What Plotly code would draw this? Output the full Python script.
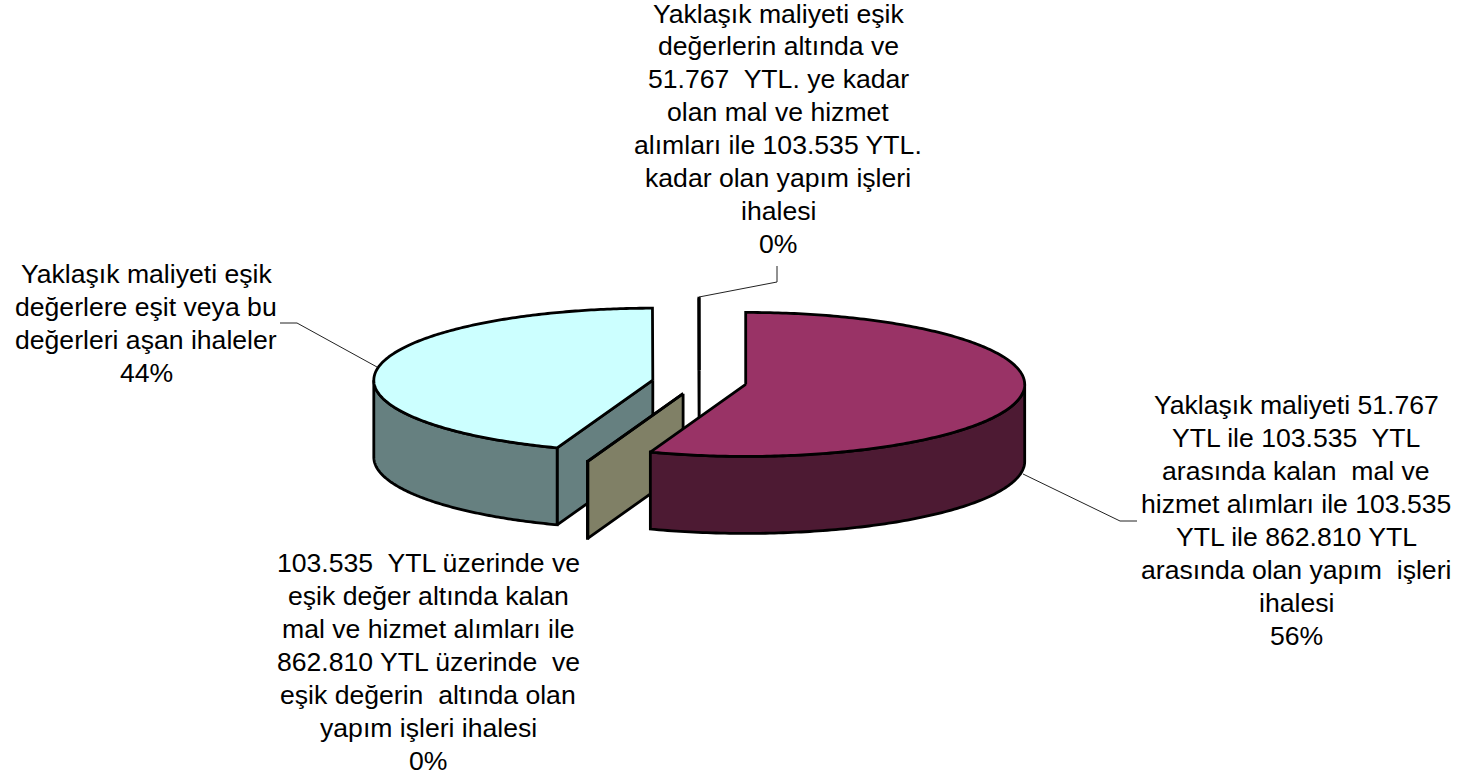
import numpy as np
import plotly.graph_objects as go

# Data: share of each slice, clockwise from 12 o'clock
slice_names = ["Yaklaşık maliyeti 51.767 - 103.535 YTL", "103.535 YTL üzerinde ve eşik değer altında",
               "Yaklaşık maliyeti eşik değerlere eşit veya aşan", "Yaklaşık maliyeti eşik değerlerin altında"]
slice_values = [55.55, 0.02, 44.41, 0.02]
top_colors = ["#993366", "#FFFFCC", "#CCFFFF", "#9999FF"]
side_colors = ["#4D1A33", "#808066", "#668080", "#4D4D80"]
draw_order = [3, 2, 1, 0]

top_label = ["Yaklaşık maliyeti eşik", "değerlerin altında ve", "51.767\u00a0 YTL. ye kadar", "olan mal ve hizmet",
             "alımları ile 103.535 YTL.", "kadar olan yapım işleri", "ihalesi", "0%"]
left_label = ["Yaklaşık maliyeti eşik", "değerlere eşit veya bu", "değerleri aşan ihaleler", "44%"]
right_label = ["Yaklaşık maliyeti 51.767", "YTL ile 103.535\u00a0 YTL", "arasında kalan\u00a0 mal ve",
               "hizmet alımları ile 103.535", "YTL ile 862.810 YTL", "arasında olan yapım\u00a0 işleri", "ihalesi", "56%"]
bottom_label = ["103.535\u00a0 YTL üzerinde ve", "eşik değer altında kalan", "mal ve hizmet alımları ile",
                "862.810 YTL üzerinde\u00a0 ve", "eşik değerin\u00a0 altında olan", "yapım işleri ihalesi", "0%"]

# Projection of the pie on the page
CX, CY, RX, RY, DEPTH, EXPLODE = 699.25, 382.3, 279.0, 72.0, 77.0, 0.169
FONT = "Liberation Sans, Arial, sans-serif"
FS = 26.6
LINE = 33


def pt(theta, r=1.0, dz=0.0, off=(0, 0)):
    t = np.radians(theta)
    return (CX + off[0] + r * RX * np.sin(t), CY + off[1] - r * RY * np.cos(t) + dz)


def poly(fig, xs, ys, fill):
    fig.add_trace(go.Scatter(x=list(xs), y=list(ys), mode="lines", fill="toself", fillcolor=fill,
                             line=dict(color="black", width=2.8, simplify=False), hoverinfo="skip", showlegend=False))


fig = go.Figure()
total = sum(slice_values)
edges = np.concatenate([[0], np.cumsum(slice_values)]) / total * 360

for i in draw_order:
    a, b = edges[i], edges[i + 1]
    mid = np.radians((a + b) / 2)
    off = (EXPLODE * RX * np.sin(mid), -EXPLODE * RY * np.cos(mid))
    apex = pt(0, 0, 0, off)
    # radial wall at the slice's start, visible when it faces the viewer
    if 180 < a + 1e-9 and a < 360 or (b - a) < 1:
        p = pt(a, 1, 0, off)
        poly(fig, [apex[0], p[0], p[0], apex[0], apex[0]],
             [apex[1], p[1], p[1] + DEPTH, apex[1] + DEPTH, apex[1]], side_colors[i])
    # outer wall: the part of the rim on the front half
    lo, hi = max(a, 90), min(b, 270)
    if hi > lo:
        th = np.linspace(lo, hi, 120)
        rim = [pt(t, 1, 0, off) for t in th]
        xs = [q[0] for q in rim] + [q[0] for q in rim[::-1]] + [rim[0][0]]
        ys = [q[1] for q in rim] + [q[1] + DEPTH for q in rim[::-1]] + [rim[0][1]]
        poly(fig, xs, ys, side_colors[i])
    # top face
    th = np.linspace(a, b, 240)
    rim = [pt(t, 1, 0, off) for t in th]
    poly(fig, [apex[0]] + [q[0] for q in rim] + [apex[0]], [apex[1]] + [q[1] for q in rim] + [apex[1]], top_colors[i])

# leader lines
leaders = [([699, 777, 777], [297, 282, 266]),
           ([280, 297, 377], [323, 323, 367]),
           ([1023, 1120, 1137], [474, 521, 521])]
for lx, ly in leaders:
    fig.add_trace(go.Scatter(x=lx, y=ly, mode="lines", line=dict(color="#222222", width=1),
                             hoverinfo="skip", showlegend=False))

annotations = []
for lines, x, y0 in [(top_label, 778, 14), (left_label, 146, 274), (right_label, 1296, 405), (bottom_label, 428, 563)]:
    for k, s in enumerate(lines):
        annotations.append(dict(x=x, y=y0 + k * LINE - (k and y0 == 14), text=s, showarrow=False, xanchor="center",
                                yanchor="middle", xref="x", yref="y", font=dict(family=FONT, size=FS, color="black")))

fig.update_layout(
    width=1464, height=777, margin=dict(l=0, r=0, t=0, b=0), paper_bgcolor="white", plot_bgcolor="white",
    xaxis=dict(range=[0, 1464], visible=False, fixedrange=True),
    yaxis=dict(range=[777, 0], visible=False, fixedrange=True),
    annotations=annotations, showlegend=False,
)
fig.write_html("out.html", config=dict(displayModeBar=False),
               post_script="document.body.style.margin='0';document.documentElement.style.overflow='hidden';")
